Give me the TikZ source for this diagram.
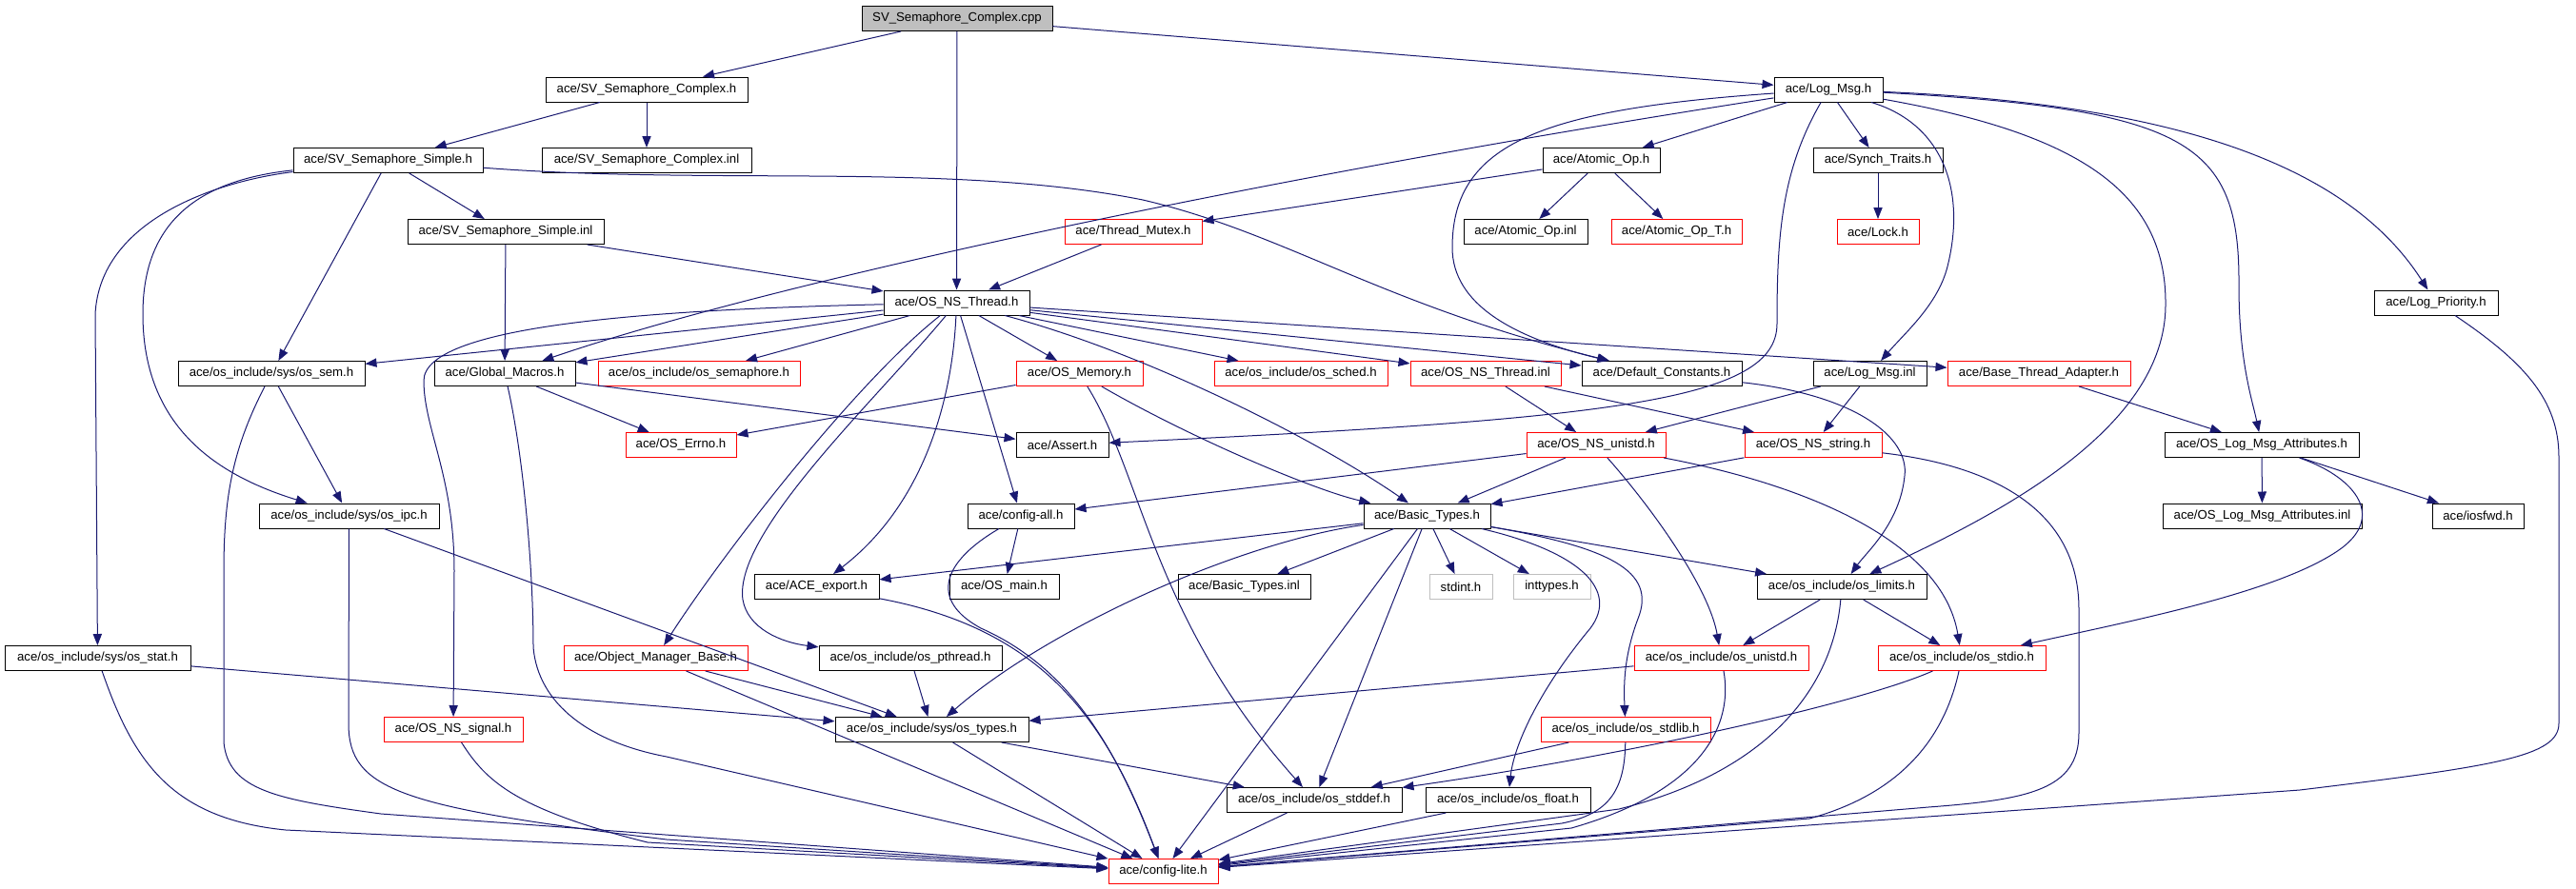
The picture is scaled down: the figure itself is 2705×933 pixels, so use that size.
\documentclass[tikz,border=0pt]{standalone}
\usepackage{fontspec}
\setmainfont{Liberation Sans}
\usetikzlibrary{arrows.meta}

\definecolor{edgeblue}{RGB}{25,25,112}
\definecolor{nodegray}{RGB}{191,191,191}

\tikzset{
  inc/.style={draw=black, line width=0.5pt, fill=white, minimum height=13pt,
    inner xsep=0pt, inner ysep=0pt, font=\fontsize{6.6}{8}\selectfont, minimum width=#1},
  incred/.style={inc=#1, draw=red},
  incsys/.style={inc=#1, draw=nodegray},
  incroot/.style={inc=#1, fill=nodegray},
  dep/.style={draw=edgeblue, line width=0.5pt, -{Triangle[length=6pt,width=4.6pt]}}
}

\begin{document}
\begin{tikzpicture}[x=0.5pt, y=-0.5pt]
    \useasboundingbox (0,0) rectangle (2705,933);

    % files, row by row
    \node[incroot=100pt] (cpp) at (1005,19.5) {SV\_Semaphore\_Complex.cpp};

    \node[inc=106pt] (svch) at (679,94) {ace/SV\_Semaphore\_Complex.h};
    \node[inc=57pt] (logmsg) at (1920,94) {ace/Log\_Msg.h};

    \node[inc=99.5pt] (svsh) at (407.5,168.5) {ace/SV\_Semaphore\_Simple.h};
    \node[inc=110pt] (svcinl) at (679,168.5) {ace/SV\_Semaphore\_Complex.inl};
    \node[inc=61.5pt] (atomicop) at (1681.5,168.5) {ace/Atomic\_Op.h};
    \node[inc=68pt] (synch) at (1972,168.5) {ace/Synch\_Traits.h};

    \node[inc=103pt] (svsinl) at (531,243.5) {ace/SV\_Semaphore\_Simple.inl};
    \node[incred=72pt] (threadmutex) at (1190,243.5) {ace/Thread\_Mutex.h};
    \node[inc=65pt] (atomicopinl) at (1602,243.5) {ace/Atomic\_Op.inl};
    \node[incred=68.5pt] (atomicopt) at (1760.5,243.5) {ace/Atomic\_Op\_T.h};
    \node[incred=43pt] (lock) at (1972,243.5) {ace/Lock.h};

    \node[inc=76.5pt] (osnsthread) at (1004.5,318) {ace/OS\_NS\_Thread.h};
    \node[inc=65pt] (logprio) at (2558,318) {ace/Log\_Priority.h};

    \node[inc=98pt] (ossem) at (285,392.5) {ace/os\_include/sys/os\_sem.h};
    \node[inc=74pt] (globalmacros) at (530,392.5) {ace/Global\_Macros.h};
    \node[incred=106pt] (ossemaphore) at (734,392.5) {ace/os\_include/os\_semaphore.h};
    \node[incred=66.5pt] (osmemory) at (1133.5,392.5) {ace/OS\_Memory.h};
    \node[incred=91pt] (ossched) at (1366,392.5) {ace/os\_include/os\_sched.h};
    \node[incred=79pt] (osnsthreadinl) at (1560,392.5) {ace/OS\_NS\_Thread.inl};
    \node[inc=84pt] (defconst) at (1745,392.5) {ace/Default\_Constants.h};
    \node[inc=59.5pt] (logmsginl) at (1963.5,392.5) {ace/Log\_Msg.inl};
    \node[incred=96pt] (bta) at (2141,392.5) {ace/Base\_Thread\_Adapter.h};

    \node[incred=58pt] (oserrno) at (715,467.5) {ace/OS\_Errno.h};
    \node[inc=48.5pt] (assert) at (1115.5,467.5) {ace/Assert.h};
    \node[incred=73pt] (osnsunistd) at (1676,467.5) {ace/OS\_NS\_unistd.h};
    \node[incred=72pt] (osnsstring) at (1904,467.5) {ace/OS\_NS\_string.h};
    \node[inc=102pt] (oslmah) at (2375,467.5) {ace/OS\_Log\_Msg\_Attributes.h};

    \node[inc=94.5pt] (osipc) at (366.5,542) {ace/os\_include/sys/os\_ipc.h};
    \node[inc=56pt] (configall) at (1072,542) {ace/config-all.h};
    \node[inc=66.5pt] (basictypes) at (1498.5,542) {ace/Basic\_Types.h};
    \node[inc=104.5pt] (oslmainl) at (2375.5,542) {ace/OS\_Log\_Msg\_Attributes.inl};
    \node[inc=48pt] (iosfwd) at (2602,542) {ace/iosfwd.h};

    \node[inc=65.5pt] (aceexport) at (857.5,616.5) {ace/ACE\_export.h};
    \node[inc=57.5pt] (osmain) at (1054.5,616.5) {ace/OS\_main.h};
    \node[inc=69.5pt] (btinl) at (1306.5,616.5) {ace/Basic\_Types.inl};
    \node[incsys=33pt] (stdint) at (1534,616.5) {stdint.h};
    \node[incsys=40.5pt] (inttypes) at (1629.5,616.5) {inttypes.h};
    \node[inc=89pt] (oslimits) at (1934,616.5) {ace/os\_include/os\_limits.h};

    \node[inc=97.5pt] (osstat) at (102.5,691.5) {ace/os\_include/sys/os\_stat.h};
    \node[incred=96.5pt] (objmgr) at (688.5,691.5) {ace/Object\_Manager\_Base.h};
    \node[inc=96pt] (ospthread) at (956,691.5) {ace/os\_include/os\_pthread.h};
    \node[incred=91.5pt] (osunistd) at (1807.5,691.5) {ace/os\_include/os\_unistd.h};
    \node[incred=88pt] (osstdio) at (2060,691.5) {ace/os\_include/os\_stdio.h};

    \node[incred=73pt] (osnssignal) at (476,766.5) {ace/OS\_NS\_signal.h};
    \node[inc=101.5pt] (ostypes) at (978.5,766.5) {ace/os\_include/sys/os\_types.h};
    \node[incred=89pt] (osstdlib) at (1707,766.5) {ace/os\_include/os\_stdlib.h};

    \node[inc=92pt] (osstddef) at (1380,840.5) {ace/os\_include/os\_stddef.h};
    \node[inc=86.5pt] (osfloat) at (1583.5,840.5) {ace/os\_include/os\_float.h};

    \node[incred=57.5pt] (configlite) at (1221.5,915.5) {ace/config-lite.h};

    % includes of the top files
    \draw[dep] (cpp) -- (svch);
    \draw[dep] (cpp) -- (osnsthread);
    \draw[dep] (cpp) -- (logmsg);
    \draw[dep] (svch) -- (svsh);
    \draw[dep] (svch) -- (svcinl);
    \draw[dep] (svsh) -- (svsinl);
    \draw[dep] (svsh) -- (ossem);
    \draw[dep] (svsh) .. controls (200,190) and (150,240) .. (150,330) .. controls (150,450) and (230,500) .. (osipc);
    \draw[dep] (svsh) .. controls (230,190) and (105,230) .. (100,330) -- (osstat);
    \draw[dep] (svsh) .. controls (750,195) and (1000,170) .. (1200,210) .. controls (1350,245) and (1450,320) .. (defconst);
    \draw[dep] (svsinl) -- (globalmacros);
    \draw[dep] (svsinl) -- (osnsthread);

    % Log_Msg.h
    \draw[dep] (logmsg) -- (atomicop);
    \draw[dep] (logmsg) .. controls (1300,190) and (800,300) .. (globalmacros);
    \draw[dep] (logmsg) .. controls (1620,115) and (1525,150) .. (1525,260) .. controls (1525,320) and (1590,355) .. (defconst);
    \draw[dep] (logmsg) .. controls (1870,180) and (1866,250) .. (1866,340) .. controls (1866,420) and (1700,440) .. (assert);
    \draw[dep] (logmsg) -- (synch);
    \draw[dep] (logmsg) .. controls (2040,130) and (2065,200) .. (2045,280) .. controls (2035,320) and (2000,350) .. (logmsginl);
    \draw[dep] (logmsg) .. controls (2180,140) and (2275,200) .. (2274,320) .. controls (2274,450) and (2100,540) .. (oslimits);
    \draw[dep] (logmsg) .. controls (2300,115) and (2352,150) .. (2351,300) .. controls (2351,380) and (2365,420) .. (oslmah);
    \draw[dep] (logmsg) .. controls (2300,110) and (2470,180) .. (logprio);

    \draw[dep] (atomicop) -- (threadmutex);
    \draw[dep] (atomicop) -- (atomicopinl);
    \draw[dep] (atomicop) -- (atomicopt);
    \draw[dep] (synch) -- (lock);
    \draw[dep] (threadmutex) -- (osnsthread);

    % OS_NS_Thread.h
    \draw[dep] (osnsthread) -- (ossem);
    \draw[dep] (osnsthread) -- (globalmacros);
    \draw[dep] (osnsthread) -- (ossemaphore);
    \draw[dep] (osnsthread) -- (osmemory);
    \draw[dep] (osnsthread) -- (ossched);
    \draw[dep] (osnsthread) -- (osnsthreadinl);
    \draw[dep] (osnsthread) -- (defconst);
    \draw[dep] (osnsthread) -- (bta);
    \draw[dep] (osnsthread) -- (configall);
    \draw[dep] (osnsthread) .. controls (1000,420) and (970,530) .. (aceexport);
    \draw[dep] (osnsthread) .. controls (1200,370) and (1380,460) .. (basictypes);
    \draw[dep] (osnsthread) .. controls (920,420) and (770,560) .. (780,630) .. controls (785,660) and (820,675) .. (ospthread);
    \draw[dep] (osnsthread) .. controls (900,400) and (760,580) .. (objmgr);
    \draw[dep] (osnsthread) .. controls (700,325) and (445,340) .. (445,400) .. controls (445,450) and (477,500) .. (477,600) -- (osnssignal);

    % os_include/sys headers and macros
    \draw[dep] (ossem) -- (osipc);
    \draw[dep] (ossem) .. controls (245,470) and (235,520) .. (235,600) -- (235,780) .. controls (240,830) and (290,840) .. (400,855) -- (configlite);
    \draw[dep] (osipc) -- (366,760) .. controls (366,830) and (420,848) .. (700,882) -- (configlite);
    \draw[dep] (osipc) -- (ostypes);
    \draw[dep] (osstat) -- (ostypes);
    \draw[dep] (osstat) .. controls (140,800) and (180,860) .. (300,872) -- (configlite);
    \draw[dep] (globalmacros) -- (oserrno);
    \draw[dep] (globalmacros) -- (assert);
    \draw[dep] (globalmacros) .. controls (550,480) and (560,600) .. (560,680) .. controls (565,740) and (620,780) .. (700,795) -- (configlite);
    \draw[dep] (osmemory) -- (oserrno);
    \draw[dep] (osmemory) .. controls (1250,460) and (1380,515) .. (basictypes);
    \draw[dep] (osmemory) .. controls (1200,500) and (1210,650) .. (osstddef);

    \draw[dep] (osnsthreadinl) -- (osnsunistd);
    \draw[dep] (osnsthreadinl) -- (osnsstring);
    \draw[dep] (defconst) .. controls (1950,415) and (2005,460) .. (2000,500) .. controls (1995,550) and (1960,580) .. (oslimits);
    \draw[dep] (logmsginl) -- (osnsunistd);
    \draw[dep] (logmsginl) -- (osnsstring);
    \draw[dep] (bta) -- (oslmah);

    \draw[dep] (osnsunistd) -- (basictypes);
    \draw[dep] (osnsunistd) -- (configall);
    \draw[dep] (osnsunistd) .. controls (1740,540) and (1795,620) .. (osunistd);
    \draw[dep] (osnsunistd) .. controls (1900,510) and (2040,570) .. (osstdio);
    \draw[dep] (osnsstring) -- (basictypes);
    \draw[dep] (osnsstring) .. controls (2100,490) and (2183,540) .. (2183,640) -- (2183,770) .. controls (2183,830) and (2130,840) .. (2025,848) -- (configlite);

    \draw[dep] (oslmah) -- (oslmainl);
    \draw[dep] (oslmah) -- (iosfwd);
    \draw[dep] (oslmah) .. controls (2470,500) and (2505,540) .. (2460,575) .. controls (2400,620) and (2250,650) .. (osstdio);

    \draw[dep] (configall) -- (osmain);
    \draw[dep] (configall) .. controls (990,590) and (975,630) .. (1030,660) .. controls (1120,700) and (1170,780) .. (configlite);

    % Basic_Types.h
    \draw[dep] (basictypes) -- (aceexport);
    \draw[dep] (basictypes) .. controls (1300,570) and (1100,660) .. (ostypes);
    \draw[dep] (basictypes) -- (btinl);
    \draw[dep] (basictypes) -- (configlite);
    \draw[dep] (basictypes) -- (osstddef);
    \draw[dep] (basictypes) -- (stdint);
    \draw[dep] (basictypes) -- (inttypes);
    \draw[dep] (basictypes) .. controls (1660,580) and (1700,620) .. (1670,660) .. controls (1620,720) and (1590,780) .. (osfloat);
    \draw[dep] (basictypes) .. controls (1690,575) and (1740,600) .. (1720,650) .. controls (1705,690) and (1705,720) .. (osstdlib);
    \draw[dep] (basictypes) -- (oslimits);

    % lower os_include headers
    \draw[dep] (aceexport) .. controls (1090,660) and (1160,750) .. (configlite);
    \draw[dep] (oslimits) -- (osunistd);
    \draw[dep] (oslimits) -- (osstdio);
    \draw[dep] (oslimits) .. controls (1925,720) and (1860,810) .. (1700,850) -- (configlite);
    \draw[dep] (objmgr) -- (ostypes);
    \draw[dep] (objmgr) -- (configlite);
    \draw[dep] (ospthread) -- (ostypes);
    \draw[dep] (osunistd) -- (ostypes);
    \draw[dep] (osunistd) .. controls (1820,760) and (1790,830) .. (1650,870) -- (configlite);
    \draw[dep] (osstdio) .. controls (1950,740) and (1700,795) .. (osstddef);
    \draw[dep] (osstdio) .. controls (2045,760) and (2010,830) .. (1900,860) -- (configlite);
    \draw[dep] (osnssignal) .. controls (510,820) and (540,850) .. (680,885) -- (configlite);
    \draw[dep] (ostypes) -- (osstddef);
    \draw[dep] (ostypes) -- (configlite);
    \draw[dep] (osstdlib) -- (osstddef);
    \draw[dep] (osstdlib) .. controls (1706,830) and (1690,855) .. (1640,865) -- (configlite);
    \draw[dep] (osstddef) -- (configlite);
    \draw[dep] (osfloat) -- (configlite);
    \draw[dep] (logprio) .. controls (2650,380) and (2687,420) .. (2687,480) -- (2687,760) .. controls (2687,795) and (2620,805) .. (2415,830) -- (configlite);
\end{tikzpicture}
\end{document}
